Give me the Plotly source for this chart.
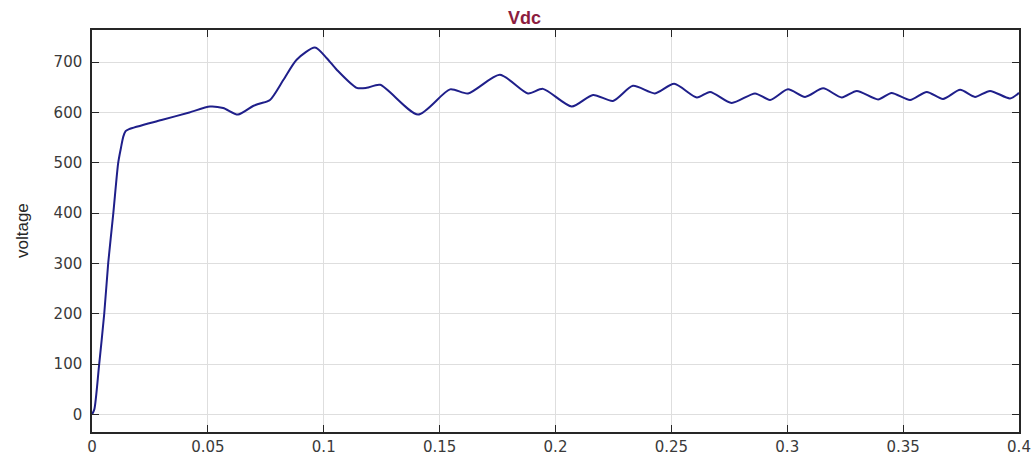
import plotly.graph_objects as go

# Time (s) and DC-link voltage (V)
t = [0, 0.001, 0.003, 0.0053, 0.007, 0.0092, 0.0113, 0.0125, 0.0135, 0.0145,
     0.016, 0.03, 0.042, 0.0509, 0.0566, 0.063, 0.0695, 0.0725, 0.0768, 0.0826,
     0.0883, 0.0962, 0.1013, 0.1056, 0.1142, 0.1185, 0.1243, 0.1407, 0.1545,
     0.1623, 0.176, 0.1881, 0.1946, 0.207, 0.2162, 0.2248, 0.2334, 0.2429,
     0.2512, 0.261, 0.2667, 0.276, 0.2861, 0.2926, 0.3003, 0.3077, 0.3155,
     0.3235, 0.33, 0.3392, 0.345, 0.353, 0.3602, 0.3672, 0.3746, 0.381,
     0.3875, 0.3961, 0.4]
vdc = [0, 10, 95, 201, 301, 400, 500, 530, 552, 563,
       567, 585, 600, 612, 609, 596, 613, 618, 625, 665,
       705, 729, 708, 685, 649, 649, 655, 596, 646,
       638, 675, 638, 647, 612, 635, 623, 653, 638,
       657, 630, 641, 619, 638, 625, 646, 631, 648,
       630, 643, 626, 639, 625, 641, 627, 645, 631,
       643, 628, 639]

x_ticks = [0, 0.05, 0.1, 0.15, 0.2, 0.25, 0.3, 0.35, 0.4]
x_tick_labels = ["0", "0.05", "0.1", "0.15", "0.2", "0.25", "0.3", "0.35", "0.4"]
y_ticks = [0, 100, 200, 300, 400, 500, 600, 700]

fig = go.Figure()
fig.add_trace(go.Scatter(
    x=t, y=vdc, mode="lines",
    line=dict(color="#1f1f8a", width=2, shape="spline", smoothing=0.7),
    showlegend=False,
))

axis_common = dict(
    showline=True, linecolor="#262626", linewidth=1.5, mirror="ticks",
    ticks="inside", ticklen=7, tickcolor="#262626",
    showgrid=True, gridcolor="#dedede", gridwidth=1,
    zeroline=False, automargin=False,
    tickfont=dict(family="DejaVu Sans", size=15, color="#3a3a3a"),
)

fig.update_xaxes(range=[0, 0.4], tickvals=x_ticks, ticktext=x_tick_labels,
                 ticklabelstandoff=0, **axis_common)
fig.update_yaxes(range=[-35, 764], tickvals=y_ticks, ticklabelstandoff=5,
                 **axis_common)

fig.update_layout(
    width=1034, height=456,
    margin=dict(l=92, r=15, t=30, b=24),
    paper_bgcolor="white", plot_bgcolor="white",
    annotations=[
        dict(text="<b>Vdc</b>", x=524, y=18, xref="paper", yref="paper",
             xanchor="center", yanchor="middle",
             showarrow=False, font=dict(family="Liberation Sans", size=18, color="#8c1d3f")),
        dict(text="voltage", x=22, y=231, xref="paper", yref="paper",
             xanchor="center", yanchor="middle",
             showarrow=False, textangle=-90,
             font=dict(family="Liberation Sans Narrow, Liberation Sans", size=17, color="#262626")),
    ],
)

# convert pixel positions for annotations into paper coordinates
pw, ph = 1034 - 92 - 15, 456 - 30 - 24
for a in fig.layout.annotations:
    px, py = a.x, a.y
    a.x = (px - 92) / pw
    a.y = 1 - (py - 30) / ph

fig.write_html("out.html")
